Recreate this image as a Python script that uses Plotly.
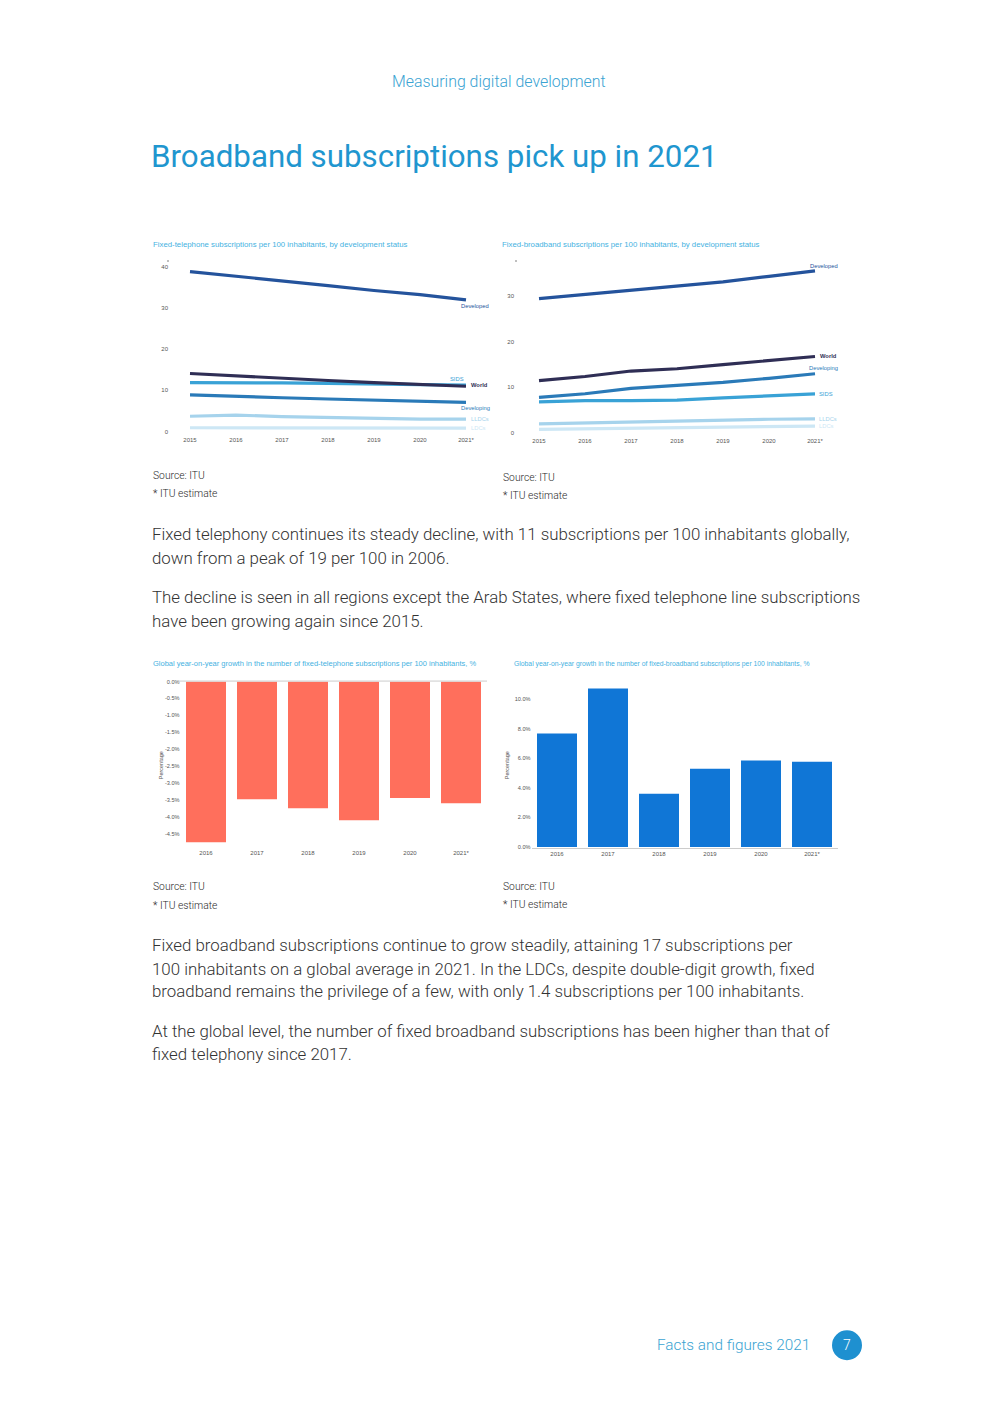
import plotly.graph_objects as go

W, H = 992, 1403

# ---------------- DATA ----------------
years = [2015, 2016, 2017, 2018, 2019, 2020, 2021]
year_labels = ["2015", "2016", "2017", "2018", "2019", "2020", "2021*"]

tel_developed = [38.9, 37.8, 36.7, 35.5, 34.3, 33.3, 32.0]
tel_world = [14.1, 13.5, 13.0, 12.4, 11.9, 11.5, 11.0]
tel_sids = [11.9, 11.9, 11.8, 11.7, 11.5, 11.4, 11.3]
tel_developing = [8.9, 8.5, 8.2, 7.9, 7.6, 7.3, 7.1]
tel_lldcs = [3.7, 4.0, 3.6, 3.4, 3.3, 3.0, 3.0]
tel_ldcs = [0.9, 0.9, 0.8, 0.8, 0.8, 0.8, 0.8]

bb_developed = [29.4, 30.3, 31.3, 32.2, 33.1, 34.3, 35.5]
bb_world = [11.4, 12.3, 13.5, 14.0, 14.9, 15.8, 16.7]
bb_developing = [7.7, 8.5, 9.7, 10.3, 11.0, 11.9, 12.9]
bb_sids = [6.7, 7.0, 7.0, 7.1, 7.6, 8.0, 8.5]
bb_lldcs = [1.9, 2.1, 2.4, 2.6, 2.8, 2.9, 3.0]
bb_ldcs = [0.7, 0.8, 1.0, 1.1, 1.2, 1.3, 1.4]

bar_years = ["2016", "2017", "2018", "2019", "2020", "2021*"]
tel_growth = [-4.74, -3.47, -3.74, -4.09, -3.44, -3.59]
bb_growth = [7.69, 10.75, 3.61, 5.31, 5.87, 5.78]

tel_ticks = [0, 10, 20, 30, 40]
bb_ticks = [0, 10, 20, 30]
tel_growth_ticks = [0.0, -0.5, -1.0, -1.5, -2.0, -2.5, -3.0, -3.5, -4.0, -4.5]
tel_growth_labels = ["0.0%", "-0.5%", "-1.0%", "-1.5%", "-2.0%", "-2.5%", "-3.0%", "-3.5%", "-4.0%", "-4.5%"]
bb_growth_ticks = [0, 2, 4, 6, 8, 10]
bb_growth_labels = ["0.0%", "2.0%", "4.0%", "6.0%", "8.0%", "10.0%"]

# ---------------- STYLE ----------------
C_DEV = "#24539c"
C_WORLD = "#2f2e55"
C_DEVING = "#2a7ab8"
C_SIDS = "#39a2d6"
C_LLDC = "#a6d3ec"
C_LDC = "#cde7f5"
C_CORAL = "#ff6f5c"
C_BLUE = "#1076d6"
C_TITLE = "#1f96cf"
C_HEAD = "#3aa3d2"
C_CHT = "#45b2df"
TICKF = dict(family="Liberation Sans", size=6, color="#555555")
BODY = "Roboto"


def fx(px):
    return px / W


def fy(py):
    return 1 - py / H


fig = go.Figure()


def line_axes(x0px, dom_l, dom_r, y0px, ppu, dom_t, dom_b):
    # x: 2015 at x0px, 46px per year ; y: 0 at y0px, ppu px per unit
    xr = [2015 + (dom_l - x0px) / 46, 2015 + (dom_r - x0px) / 46]
    yr = [(y0px - dom_b) / ppu, (y0px - dom_t) / ppu]
    return xr, yr


# ---------- chart 1 : fixed telephone ----------
xr1, yr1 = line_axes(190, 169, 490, 430, 4.125, 258, 434)
fig.update_layout(
    xaxis=dict(domain=[fx(169), fx(490)], range=xr1, tickvals=years, ticktext=year_labels,
               showgrid=False, zeroline=False, showline=False, tickfont=TICKF, ticks="", anchor="y"),
    yaxis=dict(domain=[fy(434), fy(258)], range=yr1, tickvals=tel_ticks,
               showgrid=False, zeroline=False, showline=False, tickfont=TICKF, ticks="", anchor="x"),
)
series1 = [("Developed", tel_developed, C_DEV), ("World", tel_world, C_WORLD),
           ("SIDS", tel_sids, C_SIDS), ("Developing", tel_developing, C_DEVING),
           ("LLDCs", tel_lldcs, C_LLDC), ("LDCs", tel_ldcs, C_LDC)]
for name, vals, col in reversed(series1):
    fig.add_trace(go.Scatter(x=years, y=vals, mode="lines", name=name, line=dict(color=col, width=3.2),
                             xaxis="x", yaxis="y", showlegend=False, cliponaxis=False))

# ---------- chart 2 : fixed broadband ----------
xr2, yr2 = line_axes(539, 515, 840, 431, 4.567, 258, 435)
fig.update_layout(
    xaxis2=dict(domain=[fx(515), fx(840)], range=xr2, tickvals=years, ticktext=year_labels,
                showgrid=False, zeroline=False, showline=False, tickfont=TICKF, ticks="", anchor="y2"),
    yaxis2=dict(domain=[fy(435), fy(258)], range=yr2, tickvals=bb_ticks,
                showgrid=False, zeroline=False, showline=False, tickfont=TICKF, ticks="", anchor="x2"),
)
series2 = [("Developed", bb_developed, C_DEV), ("World", bb_world, C_WORLD),
           ("Developing", bb_developing, C_DEVING), ("SIDS", bb_sids, C_SIDS),
           ("LLDCs", bb_lldcs, C_LLDC), ("LDCs", bb_ldcs, C_LDC)]
for name, vals, col in reversed(series2):
    fig.add_trace(go.Scatter(x=years, y=vals, mode="lines", name=name, line=dict(color=col, width=3.2),
                             xaxis="x2", yaxis="y2", showlegend=False, cliponaxis=False))

# ---------- chart 3 : telephone growth ----------
ppu3 = 34.0
fig.update_layout(
    xaxis3=dict(domain=[fx(180.5), fx(486.5)], showgrid=False, zeroline=False, showline=False,
                tickfont=TICKF, ticks="", anchor="y3", type="category"),
    yaxis3=dict(domain=[fy(848), fy(681)], range=[-(848 - 681) / ppu3, 0], tickvals=tel_growth_ticks,
                ticktext=tel_growth_labels, showgrid=False, zeroline=False, showline=False,
                tickfont=dict(family="Liberation Sans", size=5.6, color="#555555"), ticks="", anchor="x3"),
)
fig.add_trace(go.Bar(x=bar_years, y=tel_growth, marker=dict(color=C_CORAL, line=dict(width=0)),
                     xaxis="x3", yaxis="y3", showlegend=False))

# ---------- chart 4 : broadband growth ----------
ppu4 = 14.8
fig.update_layout(
    xaxis4=dict(domain=[fx(531.5), fx(837.5)], showgrid=False, zeroline=False, showline=True,
                linecolor="#cccccc", linewidth=1, tickfont=TICKF, ticks="", anchor="y4", type="category"),
    yaxis4=dict(domain=[fy(848), fy(683)], range=[-(848 - 847) / ppu4, (847 - 683) / ppu4],
                tickvals=bb_growth_ticks, ticktext=bb_growth_labels, showgrid=False,
                zeroline=False, showline=False, tickfont=dict(family="Liberation Sans", size=5.6, color="#555555"),
                ticks="", anchor="x4"),
)
fig.add_trace(go.Bar(x=bar_years, y=bb_growth, marker=dict(color=C_BLUE, line=dict(width=0)),
                     xaxis="x4", yaxis="y4", showlegend=False))

fig.update_layout(bargap=11 / 51)

ann = []


def txt(x, y, s, size, color, family=BODY, xanchor="left", weight=None, **kw):
    f = dict(family=family, size=size, color=color)
    if weight:
        f["weight"] = weight
    ann.append(dict(x=fx(x), y=fy(y), xref="paper", yref="paper", text=s, showarrow=False,
                    xanchor=xanchor, yanchor="middle", font=f, **kw))


LABF = "Liberation Sans"
lab1 = [("Developed", tel_developed, C_DEV, "center", 9, -6),
        ("SIDS", tel_sids, C_SIDS, "right", 0, 6),
        ("<b>World</b>", tel_world, C_WORLD, "left", 3, 1),
        ("Developing", tel_developing, C_DEVING, "center", 9, -6),
        ("LLDCs", tel_lldcs, C_LLDC, "left", 3, 0),
        ("LDCs", tel_ldcs, C_LDC, "left", 3, 0)]
for s, vals, col, xa, xs, ys in lab1:
    ann.append(dict(x=years[-1], y=vals[-1], xref="x", yref="y", text=s, showarrow=False,
                    xanchor=xa, yanchor="middle", xshift=xs, yshift=ys,
                    font=dict(family=LABF, size=5.8, color=col)))
lab2 = [("Developed", bb_developed, C_DEV, "center", 9, 5),
        ("<b>World</b>", bb_world, C_WORLD, "left", 3, 0),
        ("Developing", bb_developing, C_DEVING, "center", 8, 6),
        ("SIDS", bb_sids, C_SIDS, "left", 2, 0),
        ("LLDCs", bb_lldcs, C_LLDC, "left", 2, 0),
        ("LDCs", bb_ldcs, C_LDC, "left", 2, 0)]
for s, vals, col, xa, xs, ys in lab2:
    ann.append(dict(x=years[-1], y=vals[-1], xref="x2", yref="y2", text=s, showarrow=False,
                    xanchor=xa, yanchor="middle", xshift=xs, yshift=ys,
                    font=dict(family=LABF, size=5.8, color=col)))

# chart titles
txt(151, 242, "Fixed-telephone subscriptions per 100 inhabitants, by development status", 7.8, C_CHT, LABF)
txt(500, 242, "Fixed-broadband subscriptions per 100 inhabitants, by development status", 7.8, C_CHT, LABF)
txt(151, 663, "Global year-on-year growth in the number of fixed-telephone subscriptions per 100 inhabitants, %", 7.5, C_CHT, LABF)
txt(512, 663, "Global year-on-year growth in the number of fixed-broadband subscriptions per 100 inhabitants, %", 6.8, C_CHT, LABF)

# Percentage axis titles
for xp in (156, 507):
    ann.append(dict(x=fx(xp), y=fy(765), xref="paper", yref="paper", text="Percentage", textangle=-90,
                    showarrow=False, font=dict(family=LABF, size=5.5, color="#555555")))

# header / title
txt(499, 79, "Measuring digital development", 15.9, C_HEAD, xanchor="center", weight=300)
txt(149, 154, "Broadband subscriptions pick up in 2021", 31.3, C_TITLE)

# sources
for (x, y1, y2) in [(151, 474, 492), (501, 476, 494), (151, 887, 906), (501, 887, 905)]:
    txt(x, y1, "Source: ITU", 10.3, "#2a2a2a", weight=300)
    txt(x, y2, "* ITU estimate", 10.3, "#2a2a2a", weight=300)

# body paragraphs
body = [
    (533, "Fixed telephony continues its steady decline, with 11 subscriptions per 100 inhabitants globally,"),
    (557, "down from a peak of 19 per 100 in 2006."),
    (596, "The decline is seen in all regions except the Arab States, where fixed telephone line subscriptions"),
    (620, "have been growing again since 2015."),
    (945, "Fixed broadband subscriptions continue to grow steadily, attaining 17 subscriptions per"),
    (969, "100 inhabitants on a global average in 2021. In the LDCs, despite double-digit growth, fixed"),
    (992, "broadband remains the privilege of a few, with only 1.4 subscriptions per 100 inhabitants."),
    (1032, "At the global level, the number of fixed broadband subscriptions has been higher than that of"),
    (1055, "fixed telephony since 2017."),
]
for y, s in body:
    txt(150, y, s, 16.85, "#333333", weight=300)

# footer
txt(812, 1347, "Facts and figures 2021", 15.3, C_HEAD, xanchor="right", weight=300)
txt(847, 1347, "7", 14, "#ffffff", xanchor="center", weight=300)

shapes = [
    dict(type="circle", xref="paper", yref="paper", x0=fx(832), x1=fx(862), y0=fy(1362), y1=fy(1332),
         fillcolor="#1e90d0", line=dict(width=0), layer="below"),
    dict(type="line", xref="paper", yref="paper", x0=fx(178), x1=fx(487), y0=fy(680.5), y1=fy(680.5),
         line=dict(color="#cccccc", width=1)),
    dict(type="rect", xref="paper", yref="paper", x0=fx(167.5), x1=fx(168.5), y0=fy(259.5), y1=fy(258.5),
         fillcolor="#000000", line=dict(width=0)),
    dict(type="rect", xref="paper", yref="paper", x0=fx(515.5), x1=fx(516.5), y0=fy(259.5), y1=fy(258.5),
         fillcolor="#000000", line=dict(width=0)),
]

fig.update_layout(width=W, height=H, margin=dict(l=0, r=0, t=0, b=0), autosize=False,
                  paper_bgcolor="white", plot_bgcolor="white", annotations=ann, shapes=shapes,
                  showlegend=False)

fig.write_html("out.html", config={"displayModeBar": False},
               post_script="document.body.style.margin='0';")
